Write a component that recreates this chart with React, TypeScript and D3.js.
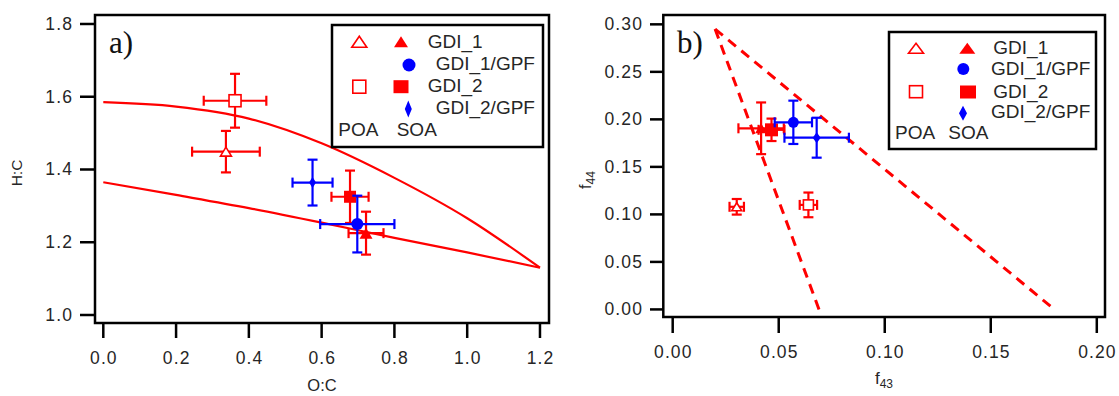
import React from "react";
import * as d3 from "d3";

// Point order: GDI_1 POA, GDI_2 POA, GDI_1 SOA, GDI_2 SOA, GDI_1/GPF, GDI_2/GPF
const pointKinds = ["triOpen", "sqOpen", "triFilled", "sqFilled", "circle", "diamond"];
const pointColors = ["#ff0000", "#ff0000", "#ff0000", "#ff0000", "#0000ff", "#0000ff"];

// Van Krevelen panel (a)
const vkOC = [0.337, 0.362, 0.722, 0.678, 0.698, 0.575];
const vkOCErr = [0.093, 0.086, 0.048, 0.051, 0.102, 0.055];
const vkHC = [1.449, 1.589, 1.225, 1.325, 1.25, 1.364];
const vkHCErr = [0.057, 0.074, 0.059, 0.072, 0.078, 0.063];

// f44 vs f43 panel (b)
const f43 = [0.0302, 0.064, 0.0417, 0.0466, 0.0569, 0.0679];
const f43Err = [0.0034, 0.0041, 0.0107, 0.0061, 0.0088, 0.0152];
const f44 = [0.108, 0.11, 0.1906, 0.189, 0.1969, 0.1807];
const f44Err = [0.0082, 0.013, 0.0272, 0.0118, 0.0228, 0.021];

// Triangle boundaries transformed to H:C vs O:C space
const boundOC = [0, 0.2, 0.4, 0.6, 0.8, 1.0, 1.2];
const upperHC = [1.585, 1.573, 1.54, 1.472, 1.377, 1.266, 1.13];
const lowerHC = [1.365, 1.33, 1.294, 1.254, 1.212, 1.172, 1.13];

// Triangle boundaries in f44/f43 space
const triLeftF43 = [0.02, 0.069];
const triLeftF44 = [0.295, 0];
const triRightF43 = [0.02, 0.18];
const triRightF44 = [0.295, 0];

const hcTicks = [1.0, 1.2, 1.4, 1.6, 1.8];
const ocTicks = [0, 0.2, 0.4, 0.6, 0.8, 1.0, 1.2];
const f44Ticks = [0, 0.05, 0.1, 0.15, 0.2, 0.25, 0.3];
const f43Ticks = [0, 0.05, 0.1, 0.15, 0.2];

const legendNames = ["GDI_1", "GDI_1/GPF", "GDI_2", "GDI_2/GPF"];

const SANS = "'Liberation Sans', Arial, sans-serif";
const SERIF = "'Liberation Serif', 'Times New Roman', serif";
const RED = "#ff0000";
const BLUE = "#0000ff";
const TXT = "#262626";

type Dims = { [k: string]: number[] };

function Marker({ kind, x, y, color, dims }: { kind: string; x: number; y: number; color: string; dims: Dims }) {
  const d = dims[kind];
  if (kind === "triOpen" || kind === "triFilled") {
    const [w, h] = d;
    const p = `M${x},${y - h / 2}L${x + w / 2},${y + h / 2}L${x - w / 2},${y + h / 2}Z`;
    return kind === "triOpen" ? (
      <path d={p} fill="white" stroke={color} strokeWidth={1.6} />
    ) : (
      <path d={p} fill={color} />
    );
  }
  if (kind === "sqOpen" || kind === "sqFilled") {
    const [w, h] = d;
    return kind === "sqOpen" ? (
      <rect x={x - w / 2} y={y - h / 2} width={w} height={h} fill="white" stroke={color} strokeWidth={1.6} />
    ) : (
      <rect x={x - w / 2} y={y - h / 2} width={w} height={h} fill={color} />
    );
  }
  if (kind === "circle") {
    return <circle cx={x} cy={y} r={d[0]} fill={color} />;
  }
  const [w, h] = d;
  return <path d={`M${x},${y - h / 2}L${x + w / 2},${y}L${x},${y + h / 2}L${x - w / 2},${y}Z`} fill={color} />;
}

function ErrorPoint({ x, y, x0, x1, y0, y1, color }: any) {
  const c = 5;
  return (
    <g stroke={color} strokeWidth={2.2} fill="none">
      <line x1={x0} y1={y} x2={x1} y2={y} />
      <line x1={x0} y1={y - c} x2={x0} y2={y + c} />
      <line x1={x1} y1={y - c} x2={x1} y2={y + c} />
      <line x1={x} y1={y0} x2={x} y2={y1} />
      <line x1={x - c} y1={y0} x2={x + c} y2={y0} />
      <line x1={x - c} y1={y1} x2={x + c} y2={y1} />
    </g>
  );
}

function Legend({ box, rows, markers, dims }: any) {
  return (
    <g>
      <rect x={box[0]} y={box[1]} width={box[2] - box[0]} height={box[3] - box[1]} fill="white" stroke="black" strokeWidth={2.5} />
      {markers.map((m: any, i: number) => (
        <Marker key={i} kind={m.kind} x={m.x} y={m.y} color={m.color} dims={dims} />
      ))}
      {rows.map((r: any, i: number) => (
        <text key={i} x={r.x} y={r.y + 19 * 0.35} fontFamily={SANS} fontSize={19} fill={TXT}>
          {r.t}
        </text>
      ))}
    </g>
  );
}

export default function App() {
  // Panel (a) scales
  const ax = d3.scaleLinear().domain([-0.0228, 1.2248]).range([95, 549]);
  const ay = d3.scaleLinear().domain([0.978, 1.8247]).range([323, 15]);
  // Panel (b) scales
  const bx = d3.scaleLinear().domain([-0.00443, 0.20387]).range([663.3, 1105]);
  const by = d3.scaleLinear().domain([-0.00797, 0.30983]).range([317, 15]);

  const curveA = d3
    .line<number>()
    .x((_, i) => ax(boundOC[i]))
    .y((v) => ay(v))
    .curve(d3.curveMonotoneX);

  const lineB = (xs: number[], ys: number[]) =>
    d3
      .line<number>()
      .x((v) => bx(v))
      .y((_, i) => by(ys[i]))(xs) as string;

  const dimsA: Dims = {
    triOpen: [11, 9],
    sqOpen: [12, 12],
    triFilled: [13, 11],
    sqFilled: [12, 12],
    circle: [6],
    diamond: [7, 11],
  };
  const dimsB: Dims = {
    triOpen: [10, 8],
    sqOpen: [10, 10],
    triFilled: [12, 10],
    sqFilled: [13, 13],
    circle: [5.5],
    diamond: [8, 11],
  };
  const dimsLegA: Dims = {
    triOpen: [15, 11],
    sqOpen: [13, 13],
    triFilled: [14, 11],
    sqFilled: [15, 13],
    circle: [6.5],
    diamond: [7, 17],
  };
  const dimsLegB: Dims = {
    triOpen: [15, 10],
    sqOpen: [13, 12],
    triFilled: [16, 11],
    sqFilled: [16, 13],
    circle: [6],
    diamond: [8, 15],
  };

  const tickStyle = { fontFamily: SANS, fontSize: 17.5, letterSpacing: 1.1, fill: TXT } as const;

  return (
    <svg width={1119} height={396} style={{ position: "absolute", left: 0, top: 0, background: "white" }}>
      <rect width={1119} height={396} fill="white" />

      {/* ---------- Panel (a) ---------- */}
      <path d={curveA(upperHC) as string} fill="none" stroke={RED} strokeWidth={2.2} />
      <path d={curveA(lowerHC) as string} fill="none" stroke={RED} strokeWidth={2.2} />

      {pointKinds.map((k, i) => {
        const x = ax(vkOC[i]);
        const y = ay(vkHC[i]);
        return (
          <g key={"a" + i}>
            <ErrorPoint
              x={x}
              y={y}
              x0={ax(vkOC[i] - vkOCErr[i])}
              x1={ax(vkOC[i] + vkOCErr[i])}
              y0={ay(vkHC[i] + vkHCErr[i])}
              y1={ay(vkHC[i] - vkHCErr[i])}
              color={pointColors[i]}
            />
            <Marker kind={k} x={x} y={y} color={pointColors[i]} dims={dimsA} />
          </g>
        );
      })}

      <Legend
        box={[332, 25, 543, 147]}
        dims={dimsLegA}
        markers={[
          { kind: "triOpen", x: 359.3, y: 41.7, color: RED },
          { kind: "triFilled", x: 401, y: 41.7, color: RED },
          { kind: "circle", x: 409, y: 65, color: BLUE },
          { kind: "sqOpen", x: 359.3, y: 86.7, color: RED },
          { kind: "sqFilled", x: 401, y: 86.7, color: RED },
          { kind: "diamond", x: 408.3, y: 109, color: BLUE },
        ]}
        rows={[
          { t: legendNames[0], x: 427.7, y: 41.3 },
          { t: legendNames[1], x: 435.7, y: 63.7 },
          { t: legendNames[2], x: 427.7, y: 85.3 },
          { t: legendNames[3], x: 435.7, y: 107.5 },
          { t: "POA", x: 338.3, y: 129 },
          { t: "SOA", x: 396.7, y: 129 },
        ]}
      />

      <text x={109} y={53} fontFamily={SERIF} fontSize={31} fill="#111">
        a)
      </text>

      <rect x={95} y={15} width={454} height={308} fill="none" stroke="black" strokeWidth={2.5} />

      {hcTicks.map((t) => (
        <g key={"hc" + t}>
          <line x1={80} x2={95} y1={ay(t)} y2={ay(t)} stroke="black" strokeWidth={2.5} />
          <text x={73} y={ay(t) + 6} textAnchor="end" {...tickStyle}>
            {d3.format(".1f")(t)}
          </text>
        </g>
      ))}
      {ocTicks.map((t) => (
        <g key={"oc" + t}>
          <line x1={ax(t)} x2={ax(t)} y1={323} y2={338} stroke="black" strokeWidth={2.5} />
          <text x={ax(t) + 0.6} y={364} textAnchor="middle" {...tickStyle}>
            {d3.format(".1f")(t)}
          </text>
        </g>
      ))}
      <text x={322} y={391} textAnchor="middle" fontFamily={SANS} fontSize={16.5} fill={TXT}>
        O:C
      </text>
      <text
        transform="translate(22,173) rotate(-90)"
        textAnchor="middle"
        fontFamily={SANS}
        fontSize={15.5}
        fill={TXT}
      >
        H:C
      </text>

      {/* ---------- Panel (b) ---------- */}
      <path d={lineB(triLeftF43, triLeftF44)} fill="none" stroke={RED} strokeWidth={3} strokeDasharray="10,7" />
      <path d={lineB(triRightF43, triRightF44)} fill="none" stroke={RED} strokeWidth={3} strokeDasharray="10,7" />

      {pointKinds.map((k, i) => {
        const x = bx(f43[i]);
        const y = by(f44[i]);
        return (
          <g key={"b" + i}>
            <ErrorPoint
              x={x}
              y={y}
              x0={bx(f43[i] - f43Err[i])}
              x1={bx(f43[i] + f43Err[i])}
              y0={by(f44[i] + f44Err[i])}
              y1={by(f44[i] - f44Err[i])}
              color={pointColors[i]}
            />
            <Marker kind={k} x={x} y={y} color={pointColors[i]} dims={dimsB} />
          </g>
        );
      })}

      <Legend
        box={[889, 32, 1096, 149]}
        dims={dimsLegB}
        markers={[
          { kind: "triOpen", x: 916, y: 48.3, color: RED },
          { kind: "triFilled", x: 967.3, y: 48.3, color: RED },
          { kind: "circle", x: 963.3, y: 69, color: BLUE },
          { kind: "sqOpen", x: 916, y: 91.7, color: RED },
          { kind: "sqFilled", x: 968, y: 92, color: RED },
          { kind: "diamond", x: 963, y: 113.3, color: BLUE },
        ]}
        rows={[
          { t: legendNames[0], x: 993.3, y: 47.2 },
          { t: legendNames[1], x: 991, y: 68.7 },
          { t: legendNames[2], x: 993.3, y: 91.3 },
          { t: legendNames[3], x: 991, y: 111.7 },
          { t: "POA", x: 895, y: 132.8 },
          { t: "SOA", x: 948.3, y: 132.8 },
        ]}
      />

      <text x={677} y={53} fontFamily={SERIF} fontSize={31} fill="#111">
        b)
      </text>

      <rect x={663.3} y={15} width={441.7} height={302} fill="none" stroke="black" strokeWidth={2.5} />

      {f44Ticks.map((t) => (
        <g key={"f44" + t}>
          <line x1={650} x2={663.3} y1={by(t)} y2={by(t)} stroke="black" strokeWidth={2.5} />
          <text x={643} y={by(t) + 6} textAnchor="end" {...tickStyle}>
            {d3.format(".2f")(t)}
          </text>
        </g>
      ))}
      {f43Ticks.map((t) => (
        <g key={"f43" + t}>
          <line x1={bx(t)} x2={bx(t)} y1={317} y2={333} stroke="black" strokeWidth={2.5} />
          <text x={bx(t) + 0.6} y={358} textAnchor="middle" {...tickStyle}>
            {d3.format(".2f")(t)}
          </text>
        </g>
      ))}
      <text x={884} y={384} textAnchor="middle" fontFamily={SANS} fontSize={17} fill={TXT}>
        f
        <tspan fontSize={12} dy={4}>
          43
        </tspan>
      </text>
      <text
        transform="translate(591,180) rotate(-90)"
        textAnchor="middle"
        fontFamily={SANS}
        fontSize={16}
        fill={TXT}
      >
        f
        <tspan fontSize={12} dy={4}>
          44
        </tspan>
      </text>
    </svg>
  );
}
